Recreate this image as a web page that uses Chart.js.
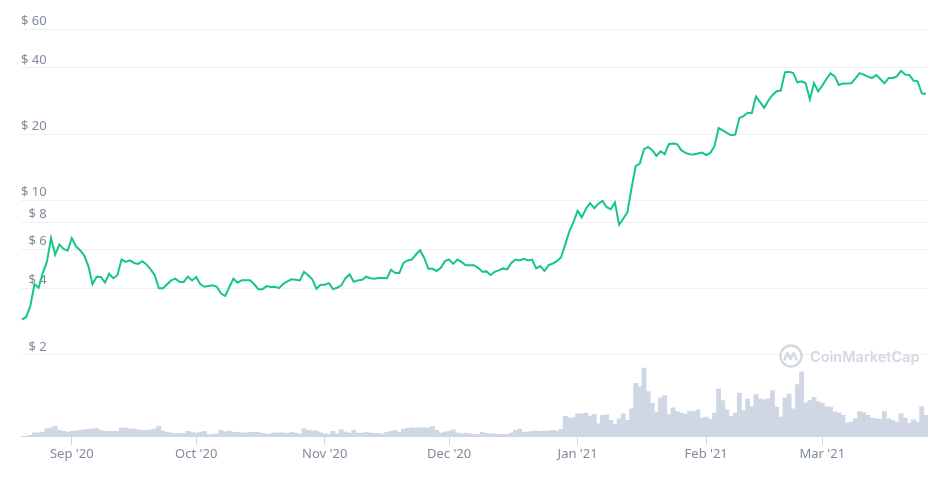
<!DOCTYPE html>
<html>
<head>
<meta charset="utf-8">
<script src="https://cdn.jsdelivr.net/npm/chart.js@4/dist/chart.umd.min.js"></script>
<style>
  html, body { margin: 0; padding: 0; background: #ffffff; }
  #wrap { position: relative; width: 947px; height: 477px; }
  #wm { position: absolute; left: 779px; top: 344px; display: flex; align-items: center;
        font-family: "Inter", "Noto Sans", sans-serif; font-weight: 600; font-size: 14.5px;
        color: #d3d8e1; }
  #wm svg { margin-right: 7px; }
</style>
</head>
<body>
<div id="wrap">
  <canvas id="c" width="947" height="477"></canvas>
  <div id="wm">
    <svg width="24" height="24" viewBox="0 0 24 24">
      <circle cx="12" cy="12" r="10.5" fill="none" stroke="#d3d8e1" stroke-width="2.4"/>
      <path d="M5.5 15.5 L8.5 9 L11.5 15 L14.5 9 L17.5 15.5" fill="none" stroke="#d3d8e1" stroke-width="2.4" stroke-linejoin="round" stroke-linecap="round"/>
    </svg>
    <span>CoinMarketCap</span>
  </div>
</div>
<script>
// Daily closing price (USD), 20 Aug 2020 .. 26 Mar 2021
const prices = [
  2.89, 2.97, 3.33, 4.18, 4.03, 4.71, 5.28, 6.77, 5.70, 6.32,
  6.04, 5.94, 6.77, 6.21, 5.96, 5.64, 5.05, 4.18, 4.52, 4.51,
  4.25, 4.66, 4.45, 4.59, 5.41, 5.28, 5.36, 5.22, 5.17, 5.32,
  5.14, 4.88, 4.59, 4.01, 4.01, 4.18, 4.35, 4.43, 4.28, 4.28,
  4.52, 4.35, 4.51, 4.18, 4.07, 4.10, 4.13, 4.07, 3.79, 3.70,
  4.06, 4.43, 4.25, 4.36, 4.36, 4.36, 4.18, 3.97, 3.97, 4.10,
  4.06, 4.07, 4.01, 4.20, 4.31, 4.40, 4.38, 4.35, 4.76, 4.59,
  4.40, 3.99, 4.16, 4.16, 4.23, 3.97, 4.03, 4.13, 4.45, 4.63,
  4.29, 4.35, 4.38, 4.52, 4.45, 4.43, 4.46, 4.46, 4.45, 4.86,
  4.70, 4.70, 5.22, 5.36, 5.41, 5.70, 5.96, 5.50, 4.91, 4.91,
  4.80, 4.96, 5.32, 5.41, 5.17, 5.41, 5.28, 5.10, 5.10, 5.10,
  4.96, 4.76, 4.78, 4.60, 4.76, 4.83, 4.93, 4.88, 5.22, 5.41,
  5.36, 5.45, 5.36, 5.41, 4.93, 5.05, 4.80, 5.10, 5.19, 5.32,
  5.54, 6.32, 7.26, 8.00, 9.00, 8.40, 9.19, 9.74, 9.24, 9.68,
  9.98, 9.34, 9.15, 9.81, 7.78, 8.28, 8.87, 11.38, 14.35, 14.74,
  17.11, 17.53, 16.94, 15.97, 16.76, 16.25, 18.03, 18.14, 18.03, 16.94,
  16.47, 16.25, 16.19, 16.36, 16.53, 16.09, 16.47, 17.66, 21.34, 20.84,
  20.28, 19.79, 19.92, 23.67, 24.17, 25.02, 24.94, 29.67, 27.96, 26.36,
  28.46, 30.16, 31.33, 31.56, 38.17, 38.44, 37.89, 34.40, 34.78, 34.05,
  28.76, 34.16, 31.33, 33.25, 35.61, 37.77, 36.62, 33.46, 33.95, 33.95,
  34.05, 35.86, 37.89, 37.27, 36.50, 35.98, 37.12, 35.61, 34.05, 35.98,
  35.98, 36.62, 38.84, 37.27, 37.12, 35.03, 34.78, 30.69, 30.48
];

// Daily trading volume (USD millions), same days
const volumes = [
  32, 32, 77, 194, 194, 225, 374, 419, 482, 302,
  257, 225, 257, 270, 302, 329, 347, 360, 392, 302,
  257, 257, 257, 257, 405, 419, 360, 374, 329, 302,
  302, 329, 374, 482, 270, 212, 180, 149, 167, 167,
  257, 225, 180, 212, 257, 104, 122, 149, 302, 239,
  270, 225, 212, 194, 194, 212, 212, 212, 167, 122,
  149, 194, 194, 194, 167, 212, 180, 135, 374, 302,
  284, 284, 194, 149, 122, 257, 149, 329, 225, 180,
  302, 180, 180, 212, 180, 167, 167, 135, 212, 257,
  302, 225, 360, 392, 419, 405, 419, 419, 419, 482,
  302, 180, 225, 257, 329, 194, 149, 180, 149, 104,
  122, 212, 167, 149, 149, 122, 122, 122, 180, 302,
  360, 225, 225, 257, 284, 257, 270, 270, 302, 270,
  347, 932, 869, 869, 1049, 1049, 1080, 945, 1022, 599,
  977, 1004, 752, 572, 824, 1049, 752, 1274, 2430, 2282,
  3119, 2057, 1530, 1125, 1769, 1877, 1022, 1319, 1157, 1080,
  1022, 1170, 1157, 1229, 869, 900, 797, 1080, 2174, 1652,
  1229, 932, 1080, 1994, 1202, 1724, 1382, 1922, 1724, 1679,
  1724, 2102, 1350, 900, 1769, 1949, 1274, 2372, 2957, 1544,
  1652, 1800, 1607, 1530, 1382, 1350, 1125, 1080, 977, 630,
  675, 824, 1157, 1094, 977, 855, 824, 810, 1157, 824,
  752, 675, 1049, 855, 630, 779, 675, 1382, 977
];

// Month ticks: day index (from 20 Aug 2020) and label
const monthTickDays = [12, 42, 73, 103, 134, 165, 193];
const monthTickLabels = ["Sep '20", "Oct '20", "Nov '20", "Dec '20", "Jan '21", "Feb '21", "Mar '21"];

// Price axis tick values
const priceTicks = [2, 4, 6, 8, 10, 20, 40, 60];

const labelColor = '#808a9d';
const fontFamily = '"Noto Sans", "Open Sans", sans-serif';

new Chart(document.getElementById('c'), {
  data: {
    datasets: [
      {
        type: 'line',
        data: prices.map((p, i) => ({ x: i, y: p })),
        yAxisID: 'y',
        borderColor: '#16c784',
        borderWidth: 2,
        pointRadius: 0,
        tension: 0,
        order: 1
      },
      {
        type: 'bar',
        data: volumes.map((v, i) => ({ x: i, y: v })),
        yAxisID: 'yv',
        backgroundColor: '#cfd6e4',
        borderWidth: 0,
        barPercentage: 1,
        categoryPercentage: 1,
        order: 2
      }
    ]
  },
  options: {
    responsive: false,
    animation: false,
    layout: { padding: { top: 5, right: 19, bottom: 0, left: 0 } },
    plugins: { legend: { display: false }, tooltip: { enabled: false } },
    scales: {
      x: {
        type: 'linear',
        offset: false,
        min: -0.25,
        max: 218.5,
        afterFit: (s) => { s.height = 40; },
        afterBuildTicks: (s) => { s.ticks = monthTickDays.map(v => ({ value: v })); },
        ticks: {
          autoSkip: false,
          maxRotation: 0,
          padding: 1,
          color: labelColor,
          font: { family: fontFamily, size: 13 },
          callback: (v) => {
            const k = monthTickDays.indexOf(v);
            return k >= 0 ? monthTickLabels[k] : null;
          }
        },
        grid: { offset: false, drawOnChartArea: false, drawTicks: true, tickLength: 8, color: '#cfd6e4' },
        border: { display: false }
      },
      y: {
        type: 'logarithmic',
        position: 'left',
        min: 0.8483,
        max: 74.9,
        afterFit: (s) => { s.width = 21; },
        afterBuildTicks: (s) => { s.ticks = priceTicks.map(v => ({ value: v })); },
        ticks: {
          mirror: true,
          crossAlign: 'far',
          padding: 0,
          labelOffset: -8,
          color: labelColor,
          font: { family: fontFamily, size: 13 },
          callback: (v) => '$ ' + v
        },
        grid: { color: '#eef1f4', drawTicks: false },
        border: { display: false }
      },
      yv: {
        type: 'linear',
        display: false,
        min: 0,
        max: 19440
      }
    }
  }
});
</script>
</body>
</html>
